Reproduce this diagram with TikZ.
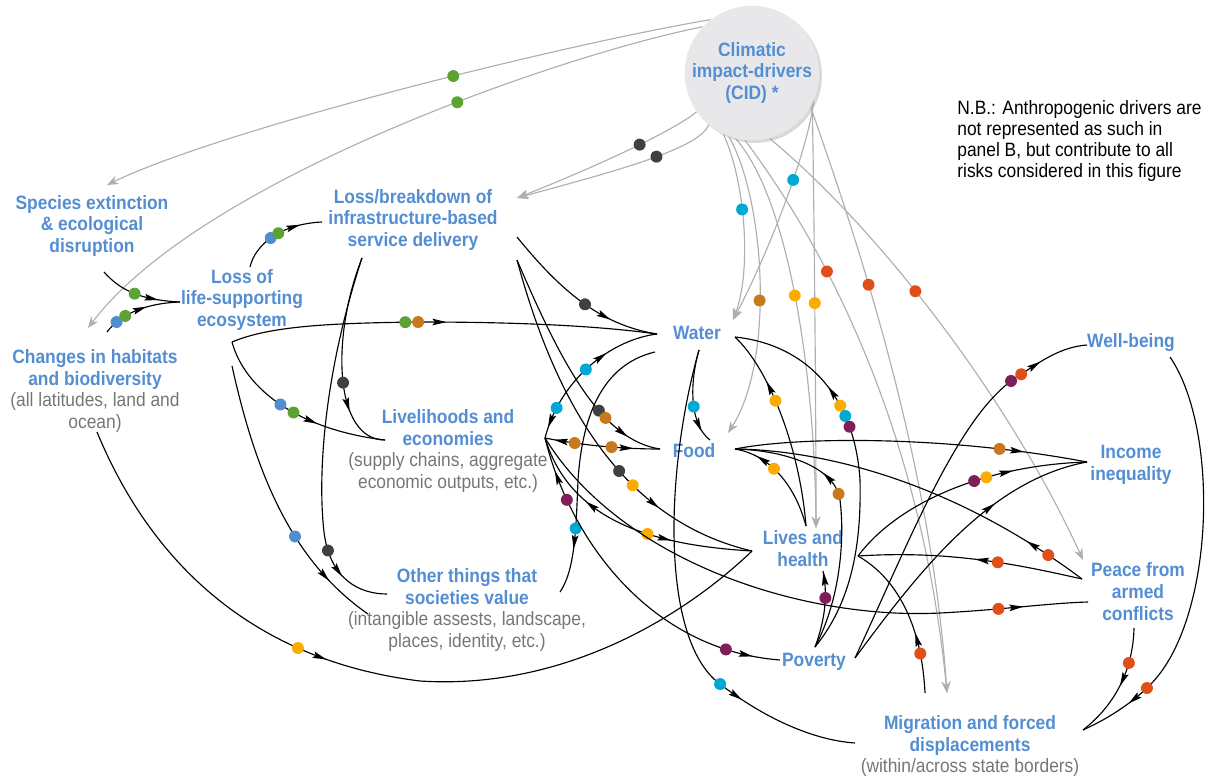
\documentclass[tikz,border=0pt]{standalone}
\usepackage{fontspec}
\setmainfont{Liberation Sans}[FakeStretch=0.9]
\usetikzlibrary{arrows.meta,decorations.markings,shadows}

\definecolor{tblue}{RGB}{84,142,210}
\definecolor{tgrey}{RGB}{118,118,118}
\definecolor{cidgrey}{RGB}{175,175,175}
\definecolor{ballfill}{RGB}{232,232,234}
\definecolor{cgreen}{RGB}{92,163,52}
\definecolor{cblue}{RGB}{79,142,209}
\definecolor{cdark}{RGB}{64,64,64}
\definecolor{cbrown}{RGB}{200,121,30}
\definecolor{ccyan}{RGB}{0,168,214}
\definecolor{cyellow}{RGB}{252,172,0}
\definecolor{cred}{RGB}{226,78,24}
\definecolor{cpurple}{RGB}{128,30,90}

\newcommand{\hdr}[1]{\textbf{\color{tblue}#1}}
\newcommand{\sbt}[1]{{\color{tgrey}#1}}

\begin{document}
\begin{tikzpicture}[x=0.02cm,y=-0.02cm,
    lbl/.style={align=center,inner sep=0pt,font=\fontsize{11}{12.5}\selectfont},
    link/.style={line width=0.65pt,black},
    cidlink/.style={line width=0.65pt,cidgrey,-{Stealth[length=6.5pt,width=5pt]}},
    cdot/.style 2 args={postaction={decorate,decoration={markings,
        mark=at position #1 with {\fill[#2] (0,0) circle (3.4pt);}}}},
    fwd/.style={postaction={decorate,decoration={markings,
        mark=at position #1 with {\fill[black] (4pt,0) -- (-4pt,1.9pt) -- (-2.6pt,0) -- (-4pt,-1.9pt) -- cycle;}}}},
    bwd/.style={postaction={decorate,decoration={markings,
        mark=at position #1 with {\fill[black] (-4pt,0) -- (4pt,1.9pt) -- (2.6pt,0) -- (4pt,-1.9pt) -- cycle;}}}}]
\useasboundingbox (0,0) rectangle (1206,780);

% labels
\node[circle,fill=ballfill,minimum size=2.6cm,inner sep=0pt,
      drop shadow={shadow xshift=1.5pt,shadow yshift=-1.5pt,opacity=0.3},
      lbl] (cid) at (752,73) {\hdr{Climatic}\\\hdr{impact-drivers}\\\hdr{(CID) *}};
\node[lbl] (species) at (92,226) {\hdr{Species extinction}\\\hdr{\& ecological}\\\hdr{disruption}};
\node[lbl] (infra) at (413,220) {\hdr{Loss/breakdown of}\\\hdr{infrastructure-based}\\\hdr{service delivery}};
\node[lbl] (lol) at (242,300) {\hdr{Loss of}\\\hdr{life-supporting}\\\hdr{ecosystem}};
\node[lbl] (habitats) at (95,391) {\hdr{Changes in habitats}\\\hdr{and biodiversity}\\\sbt{(all latitudes, land and}\\\sbt{ocean)}};
\node[lbl] (liv) at (448,451) {\hdr{Livelihoods and}\\\hdr{economies}\\\sbt{(supply chains, aggregate}\\\sbt{economic outputs, etc.)}};
\node[lbl] (other) at (467,610) {\hdr{Other things that}\\\hdr{societies value}\\\sbt{(intangible assests, landscape,}\\\sbt{places, identity, etc.)}};
\node[lbl] (water) at (697,333) {\hdr{Water}};
\node[lbl] (food) at (694,451) {\hdr{Food}};
\node[lbl] (lives) at (803,549) {\hdr{Lives and}\\\hdr{health}};
\node[lbl] (poverty) at (814,662) {\hdr{Poverty}};
\node[lbl] (wellbeing) at (1131,343) {\hdr{Well-being}};
\node[lbl] (income) at (1131,465) {\hdr{Income}\\\hdr{inequality}};
\node[lbl] (peace) at (1138,592) {\hdr{Peace from}\\\hdr{armed}\\\hdr{conflicts}};
\node[lbl] (migration) at (970,746) {\hdr{Migration and forced}\\\hdr{displacements}\\\sbt{(within/across state borders)}};
\node[lbl,align=left,anchor=west,font=\fontsize{11}{12.1}\selectfont] (nb) at (957,141)
    {N.B.: Anthropogenic drivers are\\not represented as such in\\panel B, but contribute to all\\risks considered in this figure};

% hubs
\coordinate (spS) at (104,272);
\coordinate (spT) at (107,185);
\coordinate (habN) at (107,332);
\coordinate (habT) at (88,328);
\coordinate (habS) at (97,432);
\coordinate (lolW) at (180,302);
\coordinate (lolN) at (250,267);
\coordinate (lolE) at (232,342);
\coordinate (lolS) at (232,366);
\coordinate (infW) at (322,222);
\coordinate (infS) at (362,258);
\coordinate (infE) at (517,237);
\coordinate (infE2) at (517,260);
\coordinate (infT) at (517,198);
\coordinate (livW) at (385,440);
\coordinate (livE) at (545,438);
\coordinate (othW) at (387,594);
\coordinate (othW2) at (368,614);
\coordinate (othE) at (560,592);
\coordinate (watW) at (657,334);
\coordinate (watW2) at (655,352);
\coordinate (watS) at (699,350);
\coordinate (watE) at (735,337);
\coordinate (watT) at (733,320);
\coordinate (fooW) at (660,449);
\coordinate (fooN) at (710,440);
\coordinate (fooE) at (735,449);
\coordinate (fooT) at (728,433);
\coordinate (lifW) at (752,551);
\coordinate (lifN) at (806,526);
\coordinate (lifS) at (823,571);
\coordinate (lifE) at (858,556);
\coordinate (lifT) at (816,528);
\coordinate (povW) at (780,660);
\coordinate (povN) at (815,647);
\coordinate (povE) at (855,658);
\coordinate (welW) at (1087,345);
\coordinate (welE) at (1170,357);
\coordinate (incW) at (1087,462);
\coordinate (peaW) at (1082,579);
\coordinate (peaW2) at (1088,602);
\coordinate (peaS) at (1134,628);
\coordinate (peaT) at (1083,560);
\coordinate (migW) at (855,743);
\coordinate (migN) at (925,693);
\coordinate (migE) at (1083,730);
\coordinate (migT) at (947,693);

% climatic impact-drivers
\draw[cidlink,cdot={0.42}{cgreen}] (cid.128) .. controls (560,45) and (220,130) .. (spT);
\draw[cidlink,cdot={0.37}{cgreen}] (cid.137) .. controls (560,55) and (200,180) .. (habT);
\draw[cidlink,cdot={0.33}{cdark}] (cid.215) .. controls (675,130) and (600,165) .. (infT);
\draw[cidlink,cdot={0.3}{cdark}] (cid.230) .. controls (700,150) and (600,175) .. (infT);
\draw[cidlink,cdot={0.41}{ccyan}] (cid.245) .. controls (745,180) and (752,270) .. (watT);
\draw[cidlink,cdot={0.35}{ccyan}] (cid.336) .. controls (808,150) and (770,250) .. (watT);
\draw[cidlink,cdot={0.55}{cbrown}] (cid.250) .. controls (765,200) and (775,360) .. (fooT);
\draw[cidlink,cdot={0.42}{cyellow}] (cid.256) .. controls (790,200) and (815,380) .. (lifT);
\draw[cidlink,cdot={0.47}{cyellow}] (cid.333) .. controls (814,200) and (816,400) .. (lifT);
\draw[cidlink,cdot={0.26}{cred}] (cid.264) .. controls (820,240) and (920,420) .. (migT);
\draw[cidlink,cdot={0.31}{cred}] (cid.330) .. controls (850,220) and (930,450) .. (migT);
\draw[cidlink,cdot={0.4}{cred}] (cid.285) .. controls (880,230) and (1010,400) .. (peaT);

% ecosystems and infrastructure
\draw[link,cdot={0.45}{cgreen},fwd=0.66] (spS) .. controls (120,290) and (140,300) .. (lolW);
\draw[link,cdot={0.17}{cblue},cdot={0.3}{cgreen},fwd=0.5] (habN) .. controls (122,312) and (150,303) .. (lolW);
\draw[link,cdot={0.4}{cblue},cdot={0.5}{cgreen},fwd=0.68] (lolN) .. controls (255,245) and (280,224) .. (infW);
\draw[link,cdot={0.41}{cgreen},cdot={0.44}{cbrown},fwd=0.49] (lolE) .. controls (270,326) and (330,323) .. (420,322) .. controls (520,322) and (600,326) .. (watW);
\draw[link,cdot={0.42}{cblue},cdot={0.5}{cgreen},fwd=0.6] (lolE) .. controls (245,390) and (300,430) .. (livW);
\draw[link,cdot={0.63}{cblue},fwd=0.8] (lolS) .. controls (255,470) and (290,560) .. (othW2);
\draw[link,cdot={0.62}{cdark},fwd=0.73] (infS) .. controls (330,340) and (335,440) .. (livW);
\draw[link,cdot={0.79}{cdark},fwd=0.85] (infS) .. controls (322,380) and (318,480) .. (324,532) .. controls (330,580) and (360,594) .. (othW);
\draw[link,cdot={0.55}{cdark},fwd=0.68] (infE) .. controls (560,290) and (600,325) .. (watW);
\draw[link,cdot={0.7}{cdark},cdot={0.74}{cbrown},fwd=0.83] (infE2) .. controls (560,360) and (600,440) .. (fooW);
\draw[link,cdot={0.6}{cdark},cdot={0.65}{cyellow},fwd=0.72] (infE2) .. controls (555,400) and (620,520) .. (lifW);

% water and food
\draw[link,bwd=0.38,cdot={0.5}{ccyan},cdot={0.8}{ccyan},fwd=0.89] (watW) .. controls (610,340) and (560,380) .. (livE);
\draw[link,cdot={0.76}{ccyan},fwd=0.81] (watW2) .. controls (600,365) and (582,420) .. (578,480) .. controls (576,530) and (575,570) .. (othE);
\draw[link,cdot={0.6}{ccyan},fwd=0.8] (watS) .. controls (689,385) and (690,425) .. (fooN);
\draw[link,cdot={0.7}{ccyan},fwd=0.74] (watS) .. controls (665,470) and (660,640) .. (720,684) .. controls (760,715) and (810,740) .. (migW);
\draw[link,cdot={0.63}{cyellow},fwd=0.7] (lifN) .. controls (800,450) and (770,370) .. (watE);
\draw[link,bwd=0.3,cdot={0.34}{cyellow},cdot={0.37}{ccyan},cdot={0.4}{cpurple}] (watE) .. controls (810,345) and (855,400) .. (860,480) .. controls (862,560) and (845,610) .. (povN);
\draw[link,cdot={0.6}{cyellow},fwd=0.73] (lifN) .. controls (795,485) and (770,455) .. (fooE);
\draw[link,cdot={0.57}{cbrown},fwd=0.64] (povN) .. controls (840,600) and (845,540) .. (840,500) .. controls (835,465) and (780,450) .. (fooE);
\draw[link,bwd=0.14,cdot={0.26}{cbrown},cdot={0.58}{cbrown},fwd=0.71] (livE) .. controls (580,445) and (620,449) .. (fooW);
\draw[link,cdot={0.75}{cbrown},fwd=0.8] (fooE) .. controls (800,436) and (950,436) .. (incW);
\draw[link,bwd=0.84,cdot={0.89}{cred}] (fooE) .. controls (820,450) and (950,480) .. (peaW);

% livelihoods, lives and poverty
\draw[link,bwd=0.33,cdot={0.58}{cyellow},fwd=0.65] (livE) .. controls (570,520) and (650,545) .. (lifW);
\draw[link,cdot={0.85}{cred},fwd=0.88] (livE) .. controls (620,560) and (800,620) .. (940,613) .. controls (1000,610) and (1050,603) .. (peaW2);
\draw[link,bwd=0.12,cdot={0.19}{cpurple},cdot={0.84}{cpurple},fwd=0.9] (livE) .. controls (570,540) and (650,650) .. (povW);
\draw[link,cdot={0.38}{cyellow},fwd=0.41] (habS) .. controls (150,560) and (250,660) .. (420,681) .. controls (560,690) and (680,620) .. (lifW);
\draw[link,cdot={0.55}{cpurple},cdot={0.6}{cyellow},fwd=0.68] (lifE) .. controls (900,500) and (990,465) .. (incW);
\draw[link,cdot={0.38}{cred},fwd=0.45] (peaW) .. controls (1020,565) and (950,550) .. (lifE);
\draw[link,cdot={0.25}{cred},fwd=0.34] (migN) .. controls (922,630) and (900,580) .. (lifE);
\draw[link,cdot={0.65}{cpurple},fwd=0.9] (povN) .. controls (825,620) and (828,595) .. (lifS);
\draw[link,cdot={0.79}{cpurple},cdot={0.82}{cred},fwd=0.86] (povE) .. controls (910,540) and (960,410) .. (1020,375) .. controls (1040,362) and (1060,347) .. (welW);
\draw[link,fwd=0.65] (povE) .. controls (920,570) and (990,480) .. (incW);

% migration
\draw[link,cdot={0.82}{cred},fwd=0.86] (welE) .. controls (1220,430) and (1215,620) .. (1150,685) .. controls (1130,705) and (1105,720) .. (migE);
\draw[link,cdot={0.3}{cred},fwd=0.45] (peaS) .. controls (1133,670) and (1115,705) .. (migE);
\end{tikzpicture}
\end{document}
